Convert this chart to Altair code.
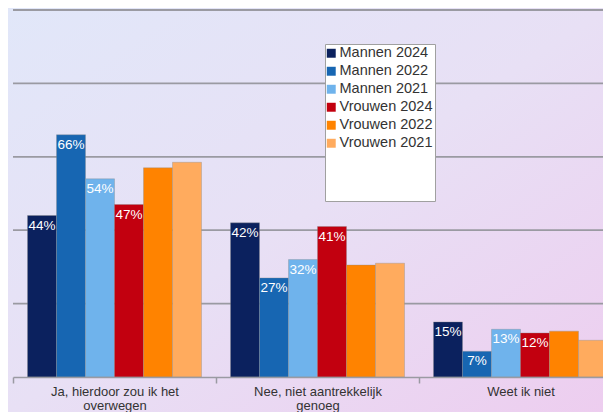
import json
import altair as alt
import pandas as pd

categories = ["Ja, hierdoor zou ik het overwegen", "Nee, niet aantrekkelijk genoeg", "Weet ik niet"]
label_lines = [["Ja, hierdoor zou ik het", "overwegen"], ["Nee, niet aantrekkelijk", "genoeg"], ["Weet ik niet"]]
series = ["Mannen 2024", "Mannen 2022", "Mannen 2021", "Vrouwen 2024", "Vrouwen 2022", "Vrouwen 2021"]
mannen_2024 = [44, 42, 15]
mannen_2022 = [66, 27, 7]
mannen_2021 = [54, 32, 13]
vrouwen_2024 = [47, 41, 12]
vrouwen_2022 = [57, 30.5, 12.5]
vrouwen_2021 = [58.5, 31, 10]
labeled = [True, True, True, True, False, False]
colors = ["#0b215e", "#1766b2", "#6fb3ec", "#c2000f", "#ff8300", "#ffab5e"]
grid_values = [20, 40, 60, 80, 100]

values = [mannen_2024, mannen_2022, mannen_2021, vrouwen_2024, vrouwen_2022, vrouwen_2021]
rows = []
for s, vals, lab in zip(series, values, labeled):
    for c, v in zip(categories, vals):
        rows.append({"categorie": c, "reeks": s, "waarde": v,
                     "label": f"{v:.0f}%" if lab else ""})
df = pd.DataFrame(rows)
grid_df = pd.DataFrame({"waarde": grid_values})

expr = "''"
for c, lines in reversed(list(zip(categories, label_lines))):
    expr = f"datum.value == {json.dumps(c)} ? {json.dumps(lines)} : {expr}"

FONT = "Liberation Sans"
GRID = "#9a9aa2"

x_enc = alt.X("categorie:N", sort=categories, title=None,
              scale=alt.Scale(paddingInner=0, paddingOuter=0),
              axis=alt.Axis(labelExpr=expr, labelAngle=0, labelFont=FONT, labelFontSize=13,
                            labelColor="#333333", labelLineHeight=14, labelPadding=2,
                            tickBand="extent", tickSize=6, tickColor=GRID, tickWidth=1.5,
                            domainColor=GRID, domainWidth=1.5, grid=False, zindex=1))
xo_enc = alt.XOffset("reeks:N", sort=series,
                     scale=alt.Scale(paddingInner=0, paddingOuter=0.5))
y_scale = alt.Scale(domain=[0, 100], nice=False)
y_enc = alt.Y("waarde:Q", title=None, scale=y_scale, axis=None)

bg = alt.Chart(alt.Data(values=[{"a": 1}])).mark_rect(
    fill=alt.Gradient(gradient="linear",
                      stops=[alt.GradientStop(color="#e1e7f9", offset=0),
                             alt.GradientStop(color="#e8e0f5", offset=0.5),
                             alt.GradientStop(color="#edcdef", offset=1)],
                      x1=0, y1=0, x2=1, y2=1)
).encode(x=alt.value(-5), x2=alt.value(595), y=alt.value(-2), y2=alt.value(404))

grid = alt.Chart(grid_df).mark_rule(color=GRID, strokeWidth=1.8).encode(y=y_enc)

bars = alt.Chart(df).mark_bar(stroke="#8a8a8a", strokeWidth=0.6, strokeOpacity=0.6).encode(
    x=x_enc, xOffset=xo_enc, y=y_enc,
    color=alt.Color("reeks:N", sort=series,
                    scale=alt.Scale(domain=series, range=colors),
                    legend=alt.Legend(orient="none", legendX=312, legendY=34, title=" ",
                                      titleOrient="bottom", titlePadding=39, titleFontSize=10,
                                      fillColor="white", strokeColor="#a0a0a0", padding=2,
                                      symbolType="square", symbolSize=80, symbolStrokeWidth=0,
                                      symbolOffset=-3,
                                      labelFont=FONT, labelFontSize=14.5, labelColor="#333333",
                                      labelExpr="datum.label + '\u00a0\u00a0'",
                                      labelOffset=1, rowPadding=3)),
)

texts = alt.Chart(df).mark_text(baseline="top", dy=3, color="white", font=FONT,
                                fontSize=13.5).encode(
    x=x_enc, xOffset=xo_enc, y=y_enc, text="label:N"
)

chart = alt.layer(bg, grid, bars, texts).properties(
    width=609, height=367,
    autosize=alt.AutoSizeParams(type="none"),
    padding={"left": 5, "top": 2, "right": -19, "bottom": 35},
).configure_view(stroke=None)

chart.save("out.html", embed_options={"renderer": "svg", "actions": False})
